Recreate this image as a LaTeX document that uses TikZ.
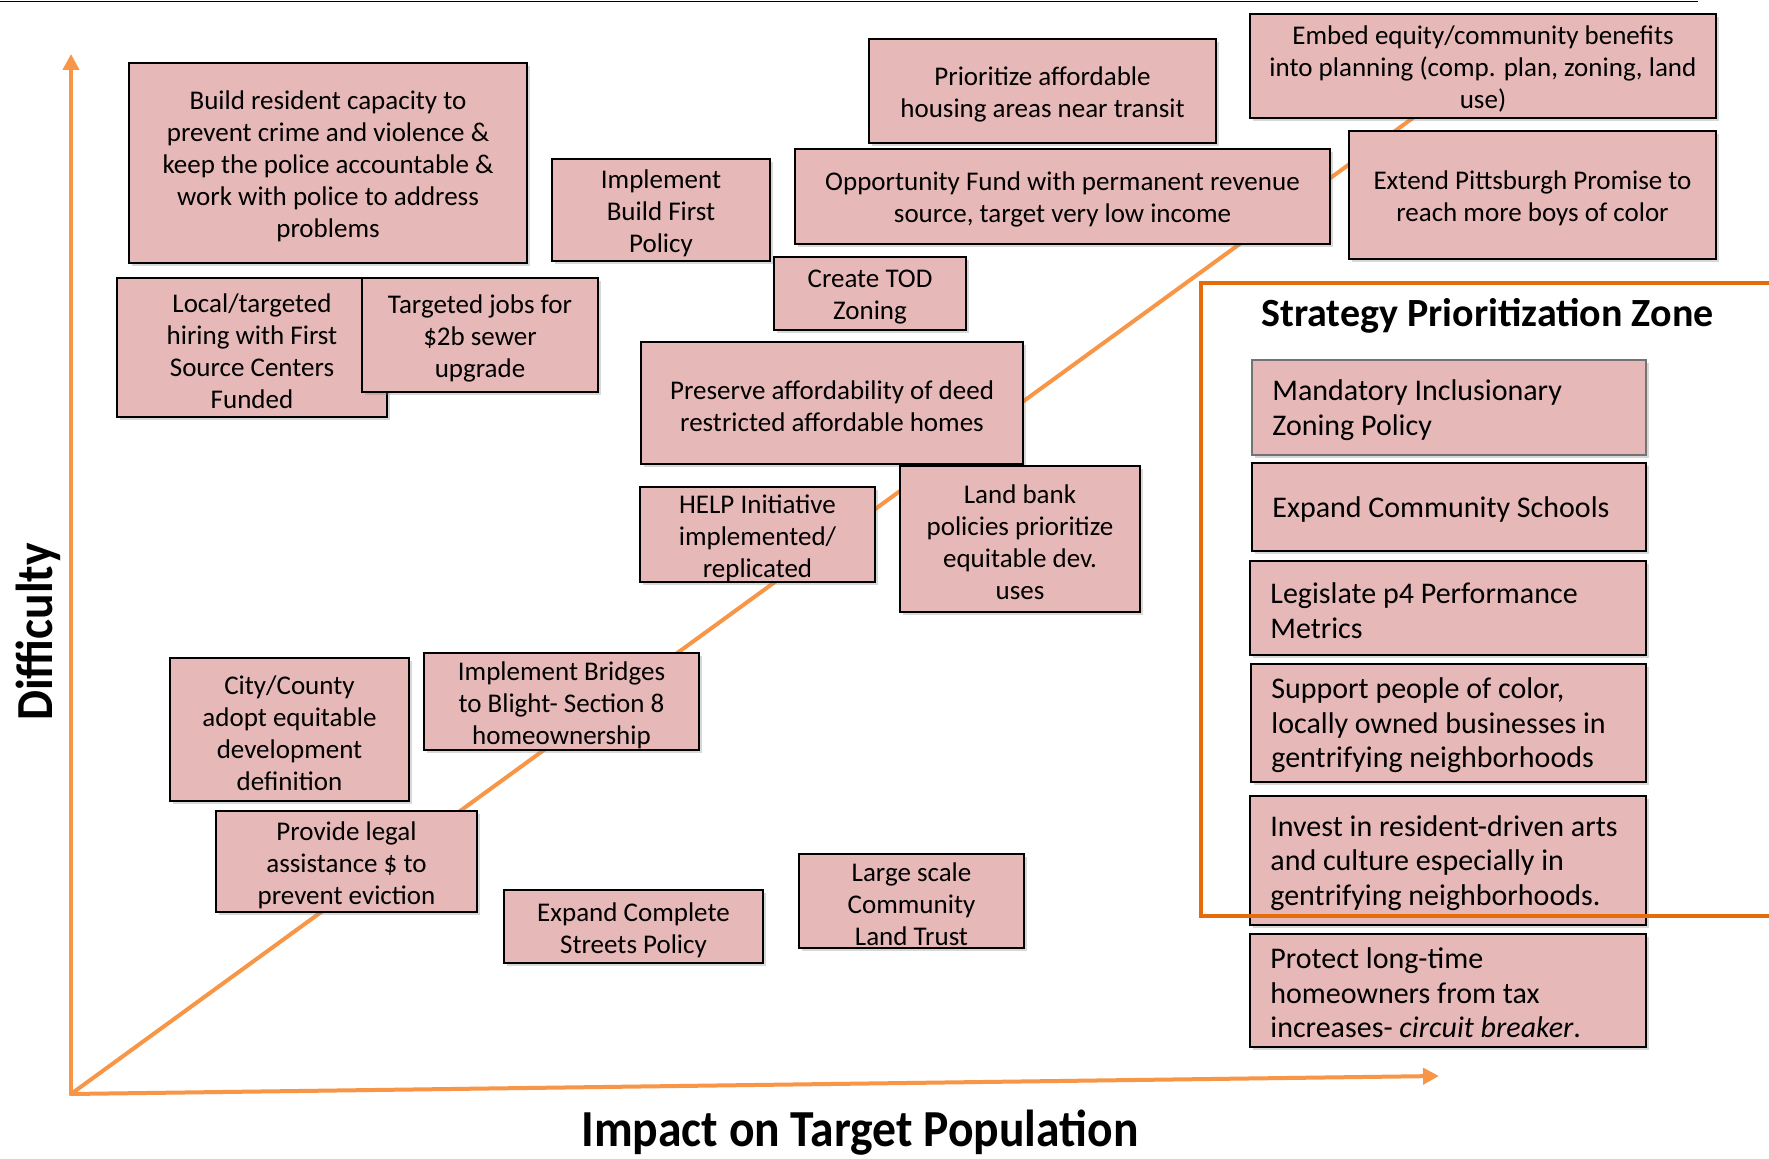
\documentclass[tikz,border=0pt]{standalone}
\usepackage{fontspec}
\setmainfont{Carlito}
\newfontfamily\axisfont[FakeStretch=0.915]{Carlito}
\usetikzlibrary{shadows,arrows.meta}
\definecolor{boxfill}{RGB}{230,184,183}
\definecolor{axisorange}{RGB}{247,150,70}
\definecolor{zoneorange}{RGB}{228,108,10}
\tikzset{
  pbox/.style={draw=black, line width=1pt, fill=boxfill, inner sep=0pt,
    drop shadow={shadow xshift=1.5pt, shadow yshift=-1.5pt, opacity=0.3}},
  ptext/.style={align=center, inner sep=0pt, font=\fontsize{13.5}{16}\selectfont},
  ztext/.style={anchor=west, align=left, inner sep=0pt, font=\fontsize{15}{17.25}\selectfont},
  axisline/.style={draw=axisorange, line width=2pt, line cap=round},
  axtip/.style={-{Triangle[width=8pt,length=8pt]}},
  zoneline/.style={draw=zoneorange, line width=1.65pt},
}
\newcommand\pinkbox[7][]{%
  \pgfmathsetmacro\cx{(#3+#5)/2}%
  \pgfmathsetmacro\cy{(#4+#6)/2}%
  \pgfmathsetmacro\bw{(#5-#3)/2}%
  \pgfmathsetmacro\bh{(#6-#4)/2}%
  \node[pbox, minimum width=\bw pt, minimum height=\bh pt, #1] (#2) at (\cx,\cy) {};%
  \node[ptext] (#2-t) at ([yshift=-1.7pt]#2.center) {#7};%
}
\newcommand\zonebox[7][]{%
  \pgfmathsetmacro\cx{(#3+#5)/2}%
  \pgfmathsetmacro\cy{(#4+#6)/2}%
  \pgfmathsetmacro\bw{(#5-#3)/2}%
  \pgfmathsetmacro\bh{(#6-#4)/2}%
  \node[pbox, minimum width=\bw pt, minimum height=\bh pt, #1] (#2) at (\cx,\cy) {};%
  \node[ztext] (#2-t) at ([xshift=10.5pt, yshift=-1.3pt]#2.west) {#7};%
}
\begin{document}
\begin{tikzpicture}[x=0.5pt,y=-0.5pt]
\useasboundingbox (0,0) rectangle (1769,1159);
\fill[white] (0,0) rectangle (1769,1159);
% top rule
\coordinate (tl) at (0,1.5);
\coordinate (tr) at (1698,1.5);
\draw[line width=0.8pt] (tl) -- (tr);
% axes and diagonal
\coordinate (O) at (71,1094);
\coordinate (ytip) at (71,54);
\coordinate (xtip) at (1439,1076);
\coordinate (dend) at (1450,91);
\draw[axisline] (O) -- (dend);
\draw[axisline, axtip] (O) -- (ytip);
\draw[axisline, axtip] (O) -- (xtip);
% boxes
\pinkbox{build}{129}{63}{527}{263}{Build resident capacity to\\prevent crime and violence \&\\keep the police accountable \&\\work with police to address\\problems}
\pinkbox{local}{117}{278}{387}{417}{Local/targeted\\hiring with First\\Source Centers\\Funded}
\pinkbox{jobs}{362}{278}{598}{392}{Targeted jobs for\\\$2b sewer\\upgrade}
\pinkbox{bfirst}{552}{159}{770}{261}{Implement\\Build First\\Policy}
\pinkbox{prior}{869}{39}{1216}{143}{Prioritize affordable\\housing areas near transit}
\pinkbox{opp}{795}{149}{1330}{244}{Opportunity Fund with permanent revenue\\source, target very low income}
\pinkbox{tod}{774}{257}{966}{330}{Create TOD\\Zoning}
\pinkbox{pres}{641}{342}{1023}{464}{Preserve affordability of deed\\restricted affordable homes}
\pinkbox{embed}{1250}{14}{1716}{118}{Embed equity/community benefits\\into planning (comp. plan, zoning, land\\use)}
\pinkbox{extend}{1349}{131}{1716}{259}{Extend Pittsburgh Promise to\\reach more boys of color}
\pinkbox{help}{640}{487}{875}{582}{HELP Initiative\\implemented/\\replicated}
\pinkbox{land}{900}{466}{1140}{612}{Land bank\\policies prioritize\\equitable dev.\\uses}
\pinkbox{city}{170}{658}{409}{801}{City/County\\adopt equitable\\development\\definition}
\pinkbox{bridges}{424}{653}{699}{750}{Implement Bridges\\to Blight- Section 8\\homeownership}
\pinkbox{legal}{216}{811}{477}{912}{Provide legal\\assistance \$ to\\prevent eviction}
\pinkbox{complete}{504}{890}{763}{963}{Expand Complete\\Streets Policy}
\pinkbox{large}{799}{854}{1024}{948}{Large scale\\Community\\Land Trust}
% zone boxes
\zonebox[draw=black!55]{mand}{1252}{360}{1646}{455}{Mandatory Inclusionary\\Zoning Policy}
\zonebox{schools}{1252}{463}{1646}{551}{Expand Community Schools}
\zonebox{legis}{1250}{561}{1646}{655}{Legislate p4 Performance\\Metrics}
\zonebox{support}{1251}{664}{1646}{782}{Support people of color,\\locally owned businesses in\\gentrifying neighborhoods}
\zonebox{invest}{1250}{796}{1646}{925}{Invest in resident-driven arts\\and culture especially in\\gentrifying neighborhoods.}
\zonebox{protect}{1250}{934}{1646}{1047}{Protect long-time\\homeowners from tax\\increases- \textit{circuit breaker}.}
% zone frame
\coordinate (z1) at (1769,283);
\coordinate (z2) at (1201,283);
\coordinate (z3) at (1201,916);
\coordinate (z4) at (1769,916);
\draw[zoneline] (z1) -- (z2) -- (z3) -- (z4);
\node[anchor=base west, inner sep=0pt, font=\bfseries\fontsize{20}{24}\selectfont] (title) at (1261,327) {Strategy Prioritization Zone};
% axis labels
\node[anchor=base, inner sep=0pt, font=\axisfont\bfseries\fontsize{26}{30}\selectfont] (impact) at (860,1147) {Impact on Target Population};
\node[anchor=base, rotate=90, inner sep=0pt, font=\axisfont\bfseries\fontsize{26}{30}\selectfont] (diff) at (53,632) {Difficulty};
\end{tikzpicture}
\end{document}
